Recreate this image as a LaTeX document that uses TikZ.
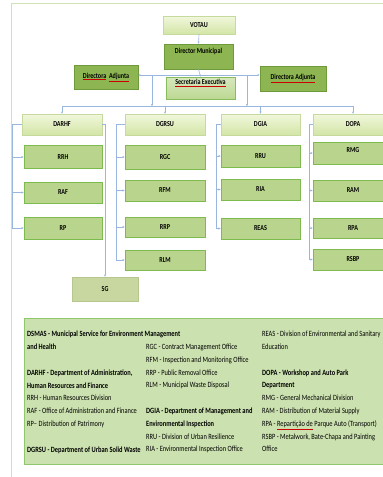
\documentclass[tikz,border=0pt]{standalone}
\usepackage{fontspec}
\setmainfont{Carlito}[FakeStretch=0.8]
\usetikzlibrary{arrows.meta,calc}
\definecolor{headtop}{HTML}{F1F7DC}
\definecolor{headbot}{HTML}{D3E5A6}
\definecolor{headline}{HTML}{C6DA9E}
\definecolor{chieffill}{HTML}{8DB552}
\definecolor{chiefline}{HTML}{6F9A3C}
\definecolor{secfill}{HTML}{BCD892}
\definecolor{secline}{HTML}{86BC5C}
\definecolor{unitfill}{HTML}{B9D58D}
\definecolor{unitline}{HTML}{7DBB4E}
\definecolor{sgfill}{HTML}{C8D7A0}
\definecolor{sgline}{HTML}{B5C78E}
\definecolor{legfill}{HTML}{CBE1AF}
\definecolor{legline}{HTML}{8EC76C}
\definecolor{linkblue}{HTML}{98B6DE}
\definecolor{framegreen}{HTML}{CFE3B4}
\newcommand{\spellchk}[1]{\textcolor{red!80!black}{\underline{\textcolor{black}{#1}}}}
\tikzset{
  sz/.style 2 args={minimum width=#1, minimum height=#2},
  boxfont/.style={font=\bfseries\fontsize{7.6}{9}\selectfont},
  head/.style={rectangle, draw=headline, top color=headtop, bottom color=headbot,
               line width=0.6pt, inner sep=1pt, boxfont},
  chief/.style={rectangle, draw=chiefline, fill=chieffill, line width=0.8pt,
                inner sep=1pt, boxfont},
  sec/.style={rectangle, draw=secline, top color=secfill!60!white, bottom color=secfill,
              line width=0.8pt, inner sep=1pt, boxfont},
  unit/.style={rectangle, draw=unitline, fill=unitfill, line width=0.9pt,
               inner sep=1pt, boxfont},
  sgbox/.style={rectangle, draw=sgline, fill=sgfill, line width=0.8pt,
                inner sep=1pt, boxfont},
  raised/.style={text depth=#1},
  link/.style={draw=linkblue, line width=0.6pt, -{Stealth[length=2.2pt,width=2.2pt]}},
  plainlink/.style={draw=linkblue, line width=0.6pt},
  legtext/.style={anchor=north west, inner sep=0pt, align=left,
                  font=\fontsize{8}{12.8}\selectfont},
}
\begin{document}
\begin{tikzpicture}[x=1pt,y=-1pt]
\useasboundingbox (0,0) rectangle (383,477);
\clip (0,0) rectangle (383,477);
% outer frame
\draw[framegreen, line width=1pt] (11,477) -- (11,3) -- (383,3);
% top management
\node[head, sz={72}{18}] (votau) at (199,25) {VOTAU};
\node[chief, sz={69}{25}, raised=11pt] (dirm) at (198.5,56.5) {Director Municipal};
\node[chief, sz={64}{24}] (adjl) at (106,77) {\spellchk{Directora}\ \ \spellchk{Adjunta}};
\node[chief, sz={66}{25}] (adjr) at (293,78.5) {\spellchk{Directora Adjunta}};
\node[sec, sz={69}{22}, raised=12pt] (sec) at (200.5,88) {\spellchk{Secretaria Executiva}};
% departments
\node[head, sz={80}{21}] (darhf) at (62,124.5) {DARHF};
\node[head, sz={80}{21}] (dgrsu) at (165,124.5) {DGRSU};
\node[head, sz={79}{21}] (dgia) at (260.5,124.5) {DGIA};
\node[head, sz={80}{21}] (dopa) at (353,124.5) {DOPA};
% units
\node[unit, sz={78}{23}] (rrh) at (63,157) {RRH};
\node[unit, sz={78}{21}] (raf) at (63,192.5) {RAF};
\node[unit, sz={78}{22}] (rp) at (63,228) {RP};
\node[unit, sz={80}{24}] (rgc) at (165,157) {RGC};
\node[unit, sz={80}{21}] (rfm) at (165,190.5) {RFM};
\node[unit, sz={80}{20}] (rrp) at (165,227) {RRP};
\node[unit, sz={80}{20}] (rlm) at (165,260) {RLM};
\node[unit, sz={79}{22}] (rru) at (260.5,156) {RRU};
\node[unit, sz={79}{21}] (ria) at (260.5,189.5) {RIA};
\node[unit, sz={79}{21}] (reas) at (260.5,228.5) {REAS};
\node[unit, sz={80}{22}, raised=5pt] (rmg) at (353,153) {RMG};
\node[unit, sz={80}{21}] (ram) at (353,190.5) {RAM};
\node[unit, sz={80}{20}] (rpa) at (353,228) {RPA};
\node[unit, sz={80}{21}] (rsbp) at (353,259.5) {RSBP};
\node[sgbox, sz={66}{24}] (sg) at (105,289) {SG};
% connectors at the top
\coordinate (junc) at (199,75);
\coordinate (dropl) at (152,75);
\coordinate (dropr) at (247,75);
\coordinate (busy) at (0,106);
\draw[link] (votau.south) -- (dirm.north);
\draw[link] (dirm.south) -- (sec.north);
\draw[link] (junc) -- (adjl.east |- junc);
\draw[link] (junc) -- (adjr.west |- junc);
\draw[plainlink] (dropl) -- (dropr);
\draw[link] (dropl) -- (dropl |- busy);
\draw[link] (dropr) -- (dropr |- busy);
\draw[plainlink] (darhf.north |- busy) -- (dopa.north |- busy);
\foreach \d in {darhf,dgrsu,dgia,dopa}
  \draw[link] (\d.north |- busy) -- (\d.north);
% department spines
\foreach \h/\off/\kids in {darhf/9/{rrh,raf,rp}, dgrsu/8/{rgc,rfm,rrp,rlm},
                           dgia/4/{rru,ria,reas}, dopa/3/{rmg,ram,rpa,rsbp}}{
  \foreach \k in \kids
    \draw[link] (\h.west) -- ++(-\off,0) |- (\k.west);
}
\draw[link] (darhf.east) -| (sg.north);
% legend
\node[rectangle, draw=legline, fill=legfill, line width=1pt, anchor=north west,
      sz={372}{146}] (legend) at (24,318) {};
\node[legtext] (leg1) at (27,331) {%
  \textbf{DSMAS - Municipal Service for Environment Management}\\
  \textbf{and Health}\\[12.8pt]
  \textbf{DARHF - Department of Administration,}\\
  \textbf{Human Resources and Finance}\\
  RRH - Human Resources Division\\
  RAF - Office of Administration and Finance\\
  RP-- Distribution of Patrimony\\[12.8pt]
  \textbf{DGRSU - Department of Urban Solid Waste}};
\node[legtext] (leg2) at (146,331) {%
  \vphantom{Dl}\\
  RGC - Contract Management Office\\
  RFM - Inspection and Monitoring Office\\
  RRP - Public Removal Office\\
  RLM - Municipal Waste Disposal\\[12.8pt]
  \textbf{DGIA - Department of Management and}\\
  \textbf{Environmental Inspection}\\
  RRU - Division of Urban Resilience\\
  RIA - Environmental Inspection Office};
\node[legtext] (leg3) at (262,331) {%
  REAS - Division of Environmental and Sanitary\\
  Education\\[12.8pt]
  \textbf{DOPA - Workshop and Auto Park}\\
  \textbf{Department}\\
  RMG - General Mechanical Division\\
  RAM - Distribution of Material Supply\\
  RPA - \spellchk{Repartição de} Parque Auto (Transport)\\
  RSBP - Metalwork, Bate-Chapa and Painting\\
  Office};
\end{tikzpicture}
\end{document}
